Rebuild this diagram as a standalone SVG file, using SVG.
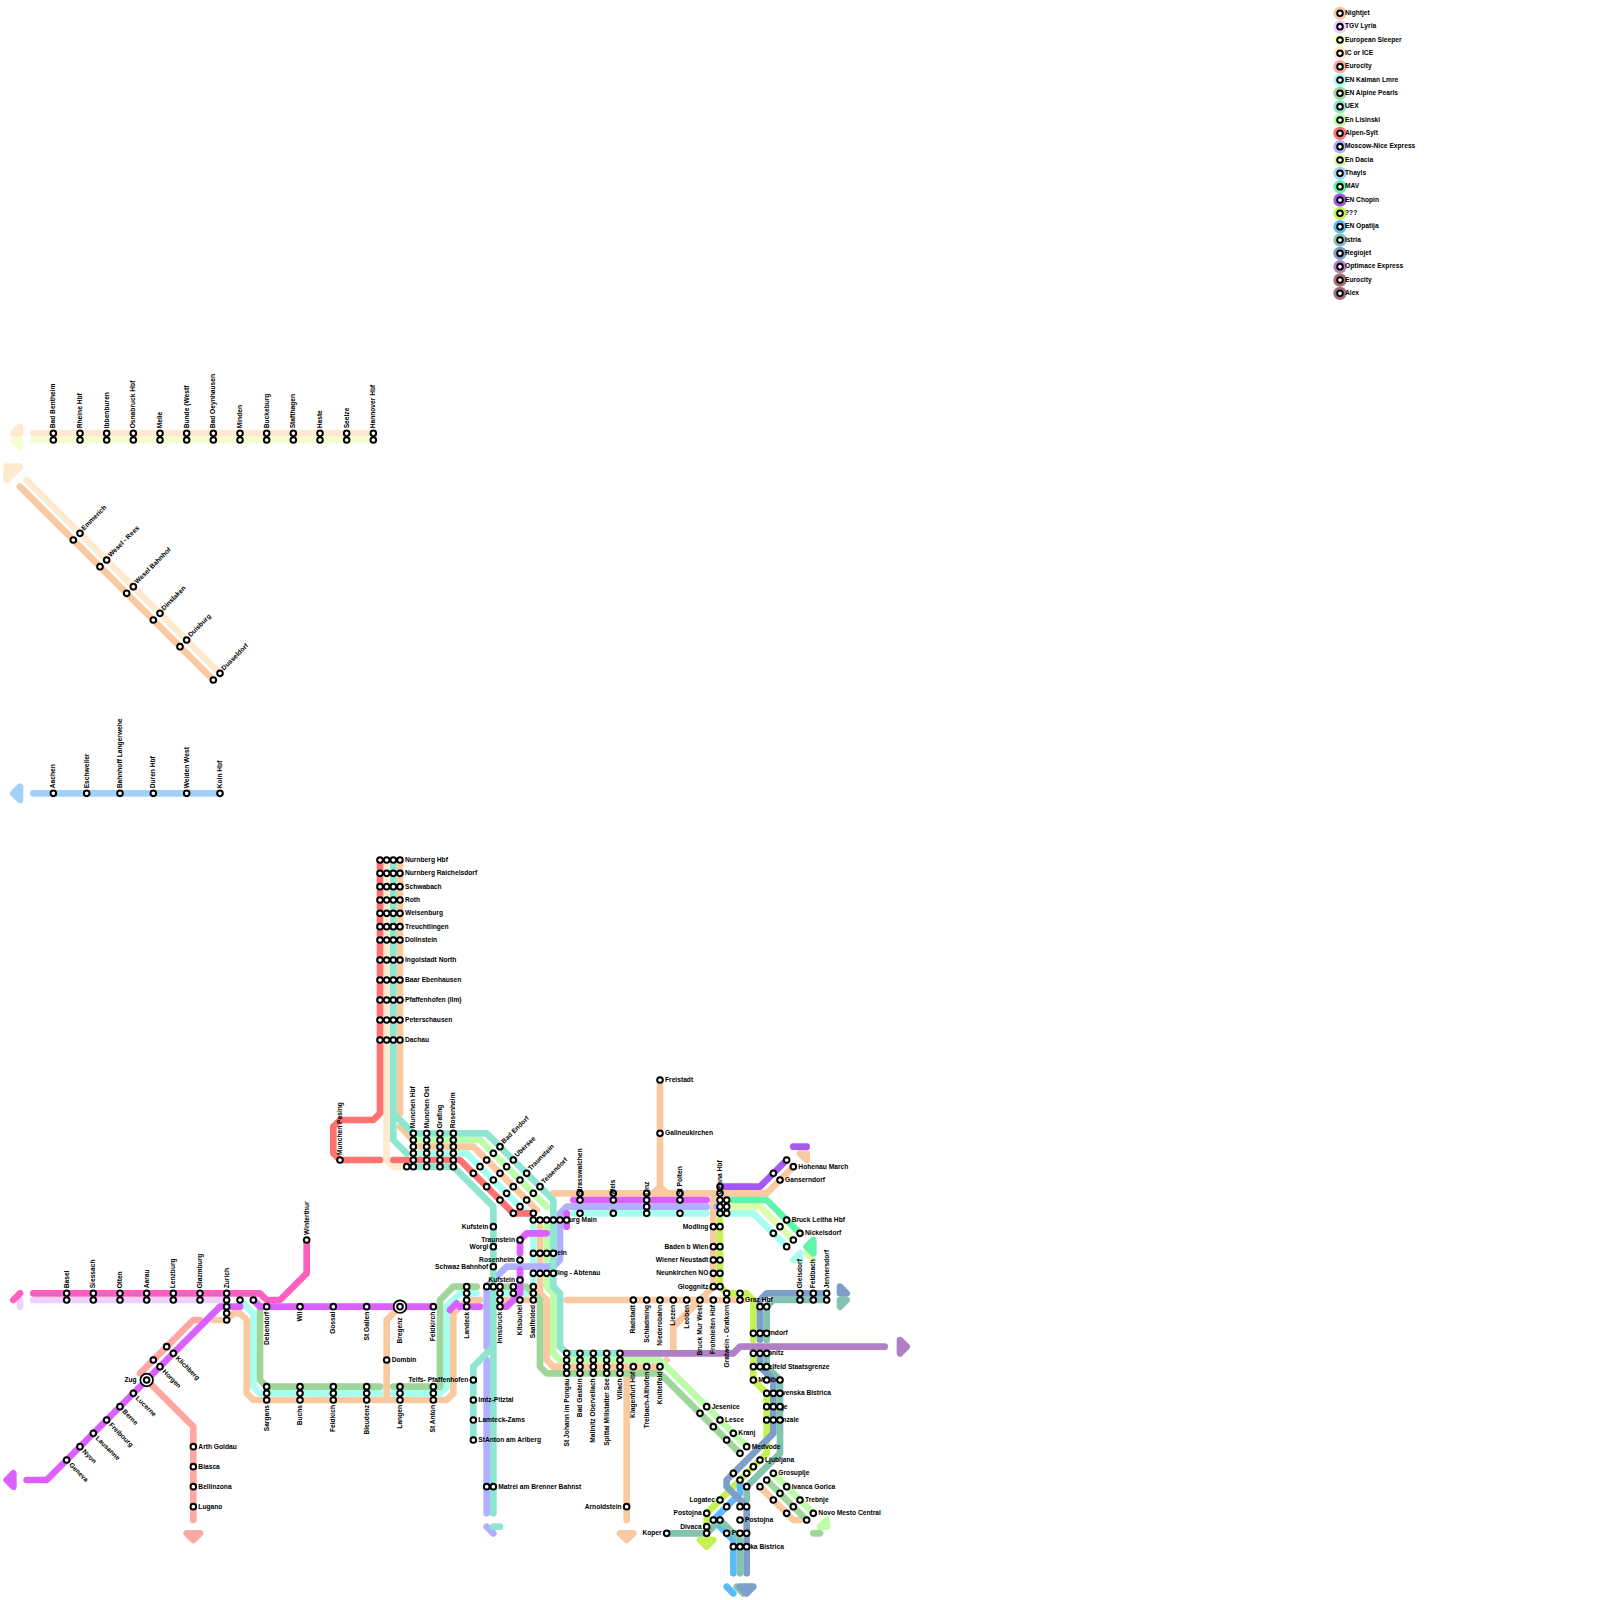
<svg xmlns="http://www.w3.org/2000/svg" xmlns:xlink="http://www.w3.org/1999/xlink" width="1600" height="1600" viewBox="0 0 1600 1600">
<style>
text{font:bold 1px "Liberation Sans",Arial,sans-serif;fill:#000}
.e{text-anchor:end}
.nj{stroke:#f9c9a0;fill:#f9c9a0}.tg{stroke:#eed0fd;fill:#eed0fd}.es{stroke:#f4ffcf;fill:#f4ffcf}.ic{stroke:#fdeacf;fill:#fdeacf}.ec{stroke:#ffa8a3;fill:#ffa8a3}.ka{stroke:#a8fff0;fill:#a8fff0}.al{stroke:#9fd69a;fill:#9fd69a}.ue{stroke:#8ee5d0;fill:#8ee5d0}.li{stroke:#bcffa8;fill:#bcffa8}.as{stroke:#ff7272;fill:#ff7272}.mo{stroke:#b0b0ff;fill:#b0b0ff}.da{stroke:#ddfcae;fill:#ddfcae}.th{stroke:#a2d2fa;fill:#a2d2fa}.ma{stroke:#5ff5a8;fill:#5ff5a8}.ch{stroke:#a45af0;fill:#a45af0}.qq{stroke:#c4f254;fill:#c4f254}.op{stroke:#5cbaf8;fill:#5cbaf8}.is{stroke:#82c4b0;fill:#82c4b0}.re{stroke:#7d9fc9;fill:#7d9fc9}.om{stroke:#b07fc6;fill:#b07fc6}.e2{stroke:#a87070;fill:#a87070}.ax{stroke:#a56e80;fill:#a56e80}.pk{stroke:#ff60c0;fill:#ff60c0}.pu{stroke:#dc5fff;fill:#dc5fff}
.l{fill:none;stroke-width:1;stroke-linecap:round;stroke-linejoin:round}
.h{stroke-width:1;stroke-linejoin:round}
.k{stroke:none}
</style>
<defs><circle id="s" r=".42" fill="#fff" stroke="#000" stroke-width=".3"/><circle id="b" r=".95" fill="#fff" stroke="#000" stroke-width=".26"/></defs>
<g transform="scale(6.66667)">
<g id="connectors">
<path class="l ic" d="M5,65H56M4,72L33,101M58,129V174L59,175H61"/>
<path class="l es" d="M5,66H56"/>
<path class="l nj" d="M3,73L32,102"/>
<path class="l th" d="M5,119H33"/>
<path class="l tg" d="M5,195H34M3,195V196"/>
<path class="l pk" d="M5,194H39L40,195H42L46,191V186M2,195L3,194"/>
<path class="l ec" d="M21,206L29,198H30M22,207L29,214V228"/>
<path class="l nj" d="M32,198H34L35,197H36L37,198V209L38,210H67L68,209V197L70,195H72M60,196L58,198V210M75,195H81M60,129V167M60,169L63,172H71L80.5,181.5M81,184V194L82,195V204L83,205H99L100,204M85,195H111.5M83,179H115L119,175M99,162V178L100,179M99,178L98,179M107,179V193L101,199V202.3M94,206.5V228M114,223L119,228H120"/>
<path class="l ka" d="M36,195L38,197V208L39,209H57M59,209H66L67,208V196L69,194H71.5M75,194H79L80,193V184M62,173H70L79.5,182.5M86,182H106M108,182H113L118,187"/>
<path class="l al" d="M38,195L39,196V207L40,208H57M59,208H66V195L68,193H71.5M75,193H79L81,195V205L82,206H99L111,218M115,222L121,228"/>
<path class="l li" d="M62,171H72L82,181M82,184V193L83,194V203L84,204H99L112,217M116,221L122,227"/>
<path class="l as" d="M57,129V167L56,168H51L50,169V173L51,174H57M59,174H69L77,182H80"/>
<path class="l mo" d="M73,202V193L76,190H83L84,189V182L85,181H106M107.5,181H108M73,204V227"/>
<path class="l ue" d="M59,129V167L62,170H73L83,180V193L84,194V202L85,203H93M59,167V171L61,173M62,175H68L74,181V227M74,202L71,205V216"/>
<path class="l pu" d="M4,222H7L33,196H36M38,195L39,196H65M67.5,196.5L68.5,195.5M69,196H72M75,196H76L78,194V190.5M78,188V186L79,185H82M86,180H106M85,182V184"/>
<path class="l da" d="M109,181H114L119,186"/>
<path class="l ma" d="M109,180H115L120,185"/>
<path class="l ch" d="M108.5,178H114L118,174M119,172H121"/>
<path class="l qq" d="M108,183V193L109,194H112L113,195V201M113,203V207L115,209V218L106,227V231"/>
<path class="l om" d="M93,203H110L111,202H132.7"/>
<path class="l op" d="M111,222V224L107,228L110,231V236"/>
<path class="l is" d="M124,195H116L115,196V201M115,203V205L117,207V218L112,223V225M100,230H106L108,228L111,231V236"/>
<path class="l re" d="M124,194H115L114,195V201M114,203V205L116,207V215L110,221L109,222V223L112,226V236"/>
<path class="l op" d="M109,238L110,239"/>
<path class="l is" d="M110.5,238L111.5,239"/>
<path class="l da" d="M121,188L122,189"/>
<path class="l al" d="M122,230H123"/>
<path class="l mo" d="M73,229L74,230"/>
<path class="l ue" d="M74,229H75"/>
<polygon class="h ic" points="2,65 3,64 3,65"/>
<polygon class="h es" points="2,66 3,66 3,67"/>
<polygon class="h ic" points="1,70 3,70 1,72"/>
<polygon class="h th" points="2,119 3,118 3,120"/>
<polygon class="h pu" points="1,222 2,221 2,223"/>
<polygon class="h ec" points="28,230 30,230 29,231"/>
<polygon class="h nj" points="93,230 95,230 94,231"/>
<polygon class="h om" points="135,201 136,202 135,203"/>
<polygon class="h nj" points="120,173 121,173 121,174"/>
<polygon class="h ma" points="121,187 122,186 122,188"/>
<polygon class="h ka" points="119,189 120,188 120,189"/>
<polygon class="h re" points="126,193 127,194 126,194"/>
<polygon class="h is" points="126,195 127,195 126,196"/>
<polygon class="h li" points="123,229 124,228 124,229"/>
<polygon class="h qq" points="105,231 107,231 106,232"/>
<polygon class="h re" points="111,238 113,238 112,239"/>
</g>
<g id="legend" opacity=".995">
<circle class="nj k" cx="201" cy="2" r="1"/><use href="#s" x="201" y="2"/><text x="201.75" y="2.25">Nightjet</text>
<circle class="tg k" cx="201" cy="4" r="1"/><use href="#s" x="201" y="4"/><text x="201.75" y="4.25">TGV Lyria</text>
<circle class="es k" cx="201" cy="6" r="1"/><use href="#s" x="201" y="6"/><text x="201.75" y="6.25">European Sleeper</text>
<circle class="ic k" cx="201" cy="8" r="1"/><use href="#s" x="201" y="8"/><text x="201.75" y="8.25">IC or ICE</text>
<circle class="ec k" cx="201" cy="10" r="1"/><use href="#s" x="201" y="10"/><text x="201.75" y="10.25">Eurocity</text>
<circle class="ka k" cx="201" cy="12" r="1"/><use href="#s" x="201" y="12"/><text x="201.75" y="12.25">EN Kalman Lmre</text>
<circle class="al k" cx="201" cy="14" r="1"/><use href="#s" x="201" y="14"/><text x="201.75" y="14.25">EN Alpine Pearls</text>
<circle class="ue k" cx="201" cy="16" r="1"/><use href="#s" x="201" y="16"/><text x="201.75" y="16.25">UEX</text>
<circle class="li k" cx="201" cy="18" r="1"/><use href="#s" x="201" y="18"/><text x="201.75" y="18.25">En Lisinski</text>
<circle class="as k" cx="201" cy="20" r="1"/><use href="#s" x="201" y="20"/><text x="201.75" y="20.25">Alpen-Sylt</text>
<circle class="mo k" cx="201" cy="22" r="1"/><use href="#s" x="201" y="22"/><text x="201.75" y="22.25">Moscow-Nice Express</text>
<circle class="da k" cx="201" cy="24" r="1"/><use href="#s" x="201" y="24"/><text x="201.75" y="24.25">En Dacia</text>
<circle class="th k" cx="201" cy="26" r="1"/><use href="#s" x="201" y="26"/><text x="201.75" y="26.25">Thayls</text>
<circle class="ma k" cx="201" cy="28" r="1"/><use href="#s" x="201" y="28"/><text x="201.75" y="28.25">MAV</text>
<circle class="ch k" cx="201" cy="30" r="1"/><use href="#s" x="201" y="30"/><text x="201.75" y="30.25">EN Chopin</text>
<circle class="qq k" cx="201" cy="32" r="1"/><use href="#s" x="201" y="32"/><text x="201.75" y="32.25">???</text>
<circle class="op k" cx="201" cy="34" r="1"/><use href="#s" x="201" y="34"/><text x="201.75" y="34.25">EN Opatija</text>
<circle class="is k" cx="201" cy="36" r="1"/><use href="#s" x="201" y="36"/><text x="201.75" y="36.25">Istria</text>
<circle class="re k" cx="201" cy="38" r="1"/><use href="#s" x="201" y="38"/><text x="201.75" y="38.25">Regiojet</text>
<circle class="om k" cx="201" cy="40" r="1"/><use href="#s" x="201" y="40"/><text x="201.75" y="40.25">Optimace Express</text>
<circle class="e2 k" cx="201" cy="42" r="1"/><use href="#s" x="201" y="42"/><text x="201.75" y="42.25">Eurocity</text>
<circle class="ax k" cx="201" cy="44" r="1"/><use href="#s" x="201" y="44"/><text x="201.75" y="44.25">Alex</text>
</g>
<g id="nodes" opacity=".995">
<g id="bad-bentheim"><use href="#s" x="8" y="65"/><use href="#s" x="8" y="66"/><text transform="translate(8.3 64.25)rotate(-90)">Bad Bentheim</text></g>
<g id="rheine"><use href="#s" x="12" y="65"/><use href="#s" x="12" y="66"/><text transform="translate(12.3 64.25)rotate(-90)">Rheine Hbf</text></g>
<g id="ibbenburen"><use href="#s" x="16" y="65"/><use href="#s" x="16" y="66"/><text transform="translate(16.3 64.25)rotate(-90)">Ibbenburen</text></g>
<g id="osnabruck"><use href="#s" x="20" y="65"/><use href="#s" x="20" y="66"/><text transform="translate(20.3 64.25)rotate(-90)">Osnabruck Hbf</text></g>
<g id="melle"><use href="#s" x="24" y="65"/><use href="#s" x="24" y="66"/><text transform="translate(24.3 64.25)rotate(-90)">Melle</text></g>
<g id="bunde"><use href="#s" x="28" y="65"/><use href="#s" x="28" y="66"/><text transform="translate(28.3 64.25)rotate(-90)">Bunde (Westf</text></g>
<g id="oeynhausen"><use href="#s" x="32" y="65"/><use href="#s" x="32" y="66"/><text transform="translate(32.3 64.25)rotate(-90)">Bad Oeynhausen</text></g>
<g id="minden"><use href="#s" x="36" y="65"/><use href="#s" x="36" y="66"/><text transform="translate(36.3 64.25)rotate(-90)">Minden</text></g>
<g id="buckeburg"><use href="#s" x="40" y="65"/><use href="#s" x="40" y="66"/><text transform="translate(40.3 64.25)rotate(-90)">Buckeburg</text></g>
<g id="stafthagen"><use href="#s" x="44" y="65"/><use href="#s" x="44" y="66"/><text transform="translate(44.3 64.25)rotate(-90)">Stafthagen</text></g>
<g id="haste"><use href="#s" x="48" y="65"/><use href="#s" x="48" y="66"/><text transform="translate(48.3 64.25)rotate(-90)">Haste</text></g>
<g id="seelze"><use href="#s" x="52" y="65"/><use href="#s" x="52" y="66"/><text transform="translate(52.3 64.25)rotate(-90)">Seelze</text></g>
<g id="hannover"><use href="#s" x="56" y="65"/><use href="#s" x="56" y="66"/><text transform="translate(56.3 64.25)rotate(-90)">Hannover Hbf</text></g>
<g id="emmerich"><use href="#s" x="12" y="80"/><use href="#s" x="11" y="81"/><text transform="translate(12.6 79.6)rotate(-45)">Emmerich</text></g>
<g id="wesel-rees"><use href="#s" x="16" y="84"/><use href="#s" x="15" y="85"/><text transform="translate(16.6 83.6)rotate(-45)">Wesel - Rees</text></g>
<g id="wesel-bf"><use href="#s" x="20" y="88"/><use href="#s" x="19" y="89"/><text transform="translate(20.6 87.6)rotate(-45)">Wesel Bahnhof</text></g>
<g id="dinslaken"><use href="#s" x="24" y="92"/><use href="#s" x="23" y="93"/><text transform="translate(24.6 91.6)rotate(-45)">Dinslaken</text></g>
<g id="duisburg"><use href="#s" x="28" y="96"/><use href="#s" x="27" y="97"/><text transform="translate(28.6 95.6)rotate(-45)">Duisburg</text></g>
<g id="dusseldorf"><use href="#s" x="33" y="101"/><use href="#s" x="32" y="102"/><text transform="translate(33.6 100.6)rotate(-45)">Dusseldorf</text></g>
<g id="aachen"><use href="#s" x="8" y="119"/><text transform="translate(8.3 118.25)rotate(-90)">Aachen</text></g>
<g id="eschweiler"><use href="#s" x="13" y="119"/><text transform="translate(13.3 118.25)rotate(-90)">Eschweiler</text></g>
<g id="langerwehe"><use href="#s" x="18" y="119"/><text transform="translate(18.3 118.25)rotate(-90)">Bahnhoff Langerwehe</text></g>
<g id="duren"><use href="#s" x="23" y="119"/><text transform="translate(23.3 118.25)rotate(-90)">Duren Hbf</text></g>
<g id="weiden"><use href="#s" x="28" y="119"/><text transform="translate(28.3 118.25)rotate(-90)">Weiden West</text></g>
<g id="koln"><use href="#s" x="33" y="119"/><text transform="translate(33.3 118.25)rotate(-90)">Koln Hbf</text></g>
<g id="basel"><use href="#s" x="10" y="194"/><use href="#s" x="10" y="195"/><text transform="translate(10.3 193.25)rotate(-90)">Basel</text></g>
<g id="siessach"><use href="#s" x="14" y="194"/><use href="#s" x="14" y="195"/><text transform="translate(14.3 193.25)rotate(-90)">Siessach</text></g>
<g id="olten"><use href="#s" x="18" y="194"/><use href="#s" x="18" y="195"/><text transform="translate(18.3 193.25)rotate(-90)">Olten</text></g>
<g id="aarau"><use href="#s" x="22" y="194"/><use href="#s" x="22" y="195"/><text transform="translate(22.3 193.25)rotate(-90)">Aarau</text></g>
<g id="lenzburg"><use href="#s" x="26" y="194"/><use href="#s" x="26" y="195"/><text transform="translate(26.3 193.25)rotate(-90)">Lenzburg</text></g>
<g id="glazmburg"><use href="#s" x="30" y="194"/><use href="#s" x="30" y="195"/><text transform="translate(30.3 193.25)rotate(-90)">Glazmburg</text></g>
<g id="zurich"><use href="#s" x="34" y="194"/><use href="#s" x="34" y="195"/><use href="#s" x="34" y="196"/><use href="#s" x="34" y="197"/><use href="#s" x="34" y="198"/><text transform="translate(34.3 193.25)rotate(-90)">Zurich</text></g>
<g id="winterthur"><use href="#s" x="46" y="186"/><text transform="translate(46.3 185.25)rotate(-90)">Winterthur</text></g>
<g id="z1"><use href="#s" x="36" y="195"/></g>
<g id="z2"><use href="#s" x="38" y="195"/></g>
<g id="klichberg"><use href="#s" x="25" y="202"/><use href="#s" x="26" y="203"/><text transform="translate(26.3 203.8)rotate(45)">Klichberg</text></g>
<g id="horgen"><use href="#s" x="23" y="204"/><use href="#s" x="24" y="205"/><text transform="translate(24.3 205.8)rotate(45)">Horgen</text></g>
<g id="zug"><use href="#b" x="22" y="207"/><use href="#s" x="22" y="207"/><text class="e" x="20.5" y="207.3">Zug</text></g>
<g id="lucerne"><use href="#s" x="20" y="209"/><text transform="translate(20.3 209.8)rotate(45)">Lucerne</text></g>
<g id="berne"><use href="#s" x="18" y="211"/><text transform="translate(18.3 211.8)rotate(45)">Berne</text></g>
<g id="freibourg"><use href="#s" x="16" y="213"/><text transform="translate(16.3 213.8)rotate(45)">Freibourg</text></g>
<g id="lausanne"><use href="#s" x="14" y="215"/><text transform="translate(14.3 215.8)rotate(45)">Lausanne</text></g>
<g id="nyon"><use href="#s" x="12" y="217"/><text transform="translate(12.3 217.8)rotate(45)">Nyon</text></g>
<g id="geneva"><use href="#s" x="10" y="219"/><text transform="translate(10.3 219.8)rotate(45)">Geneva</text></g>
<g id="arth"><use href="#s" x="29" y="217"/><text x="29.75" y="217.3">Arth Goldau</text></g>
<g id="biasca"><use href="#s" x="29" y="220"/><text x="29.75" y="220.3">Biasca</text></g>
<g id="bellinzona"><use href="#s" x="29" y="223"/><text x="29.75" y="223.3">Bellinzona</text></g>
<g id="lugano"><use href="#s" x="29" y="226"/><text x="29.75" y="226.3">Lugano</text></g>
<g id="debendorf"><use href="#s" x="40" y="196"/><text class="e" transform="translate(40.3 196.75)rotate(-90)">Debendorf</text></g>
<g id="wil"><use href="#s" x="45" y="196"/><text class="e" transform="translate(45.3 196.75)rotate(-90)">Wil</text></g>
<g id="gossal"><use href="#s" x="50" y="196"/><text class="e" transform="translate(50.3 196.75)rotate(-90)">Gossal</text></g>
<g id="stgallen"><use href="#s" x="55" y="196"/><text class="e" transform="translate(55.3 196.75)rotate(-90)">St Gallen</text></g>
<g id="bregenz"><use href="#b" x="60" y="196"/><use href="#s" x="60" y="196"/><text class="e" transform="translate(60.3 197.6)rotate(-90)">Bregenz</text></g>
<g id="feldkirch"><use href="#s" x="65" y="196"/><text class="e" transform="translate(65.3 196.75)rotate(-90)">Feldkirch</text></g>
<g id="dombin"><use href="#s" x="58" y="204"/><text x="58.75" y="204.3">Dombin</text></g>
<g id="sargans"><use href="#s" x="40" y="208"/><use href="#s" x="40" y="209"/><use href="#s" x="40" y="210"/><text class="e" transform="translate(40.3 210.75)rotate(-90)">Sargans</text></g>
<g id="buchs"><use href="#s" x="45" y="208"/><use href="#s" x="45" y="209"/><use href="#s" x="45" y="210"/><text class="e" transform="translate(45.3 210.75)rotate(-90)">Buchs</text></g>
<g id="feldkich"><use href="#s" x="50" y="208"/><use href="#s" x="50" y="209"/><use href="#s" x="50" y="210"/><text class="e" transform="translate(50.3 210.75)rotate(-90)">Feldkich</text></g>
<g id="bleudenz"><use href="#s" x="55" y="208"/><use href="#s" x="55" y="209"/><use href="#s" x="55" y="210"/><text class="e" transform="translate(55.3 210.75)rotate(-90)">Bleudenz</text></g>
<g id="langen"><use href="#s" x="60" y="208"/><use href="#s" x="60" y="209"/><use href="#s" x="60" y="210"/><text class="e" transform="translate(60.3 210.75)rotate(-90)">Langen</text></g>
<g id="stanton"><use href="#s" x="65" y="208"/><use href="#s" x="65" y="209"/><use href="#s" x="65" y="210"/><text class="e" transform="translate(65.3 210.75)rotate(-90)">St Anton</text></g>
<g id="nurnberg"><use href="#s" x="57" y="129"/><use href="#s" x="58" y="129"/><use href="#s" x="59" y="129"/><use href="#s" x="60" y="129"/><text x="60.75" y="129.3">Nurnberg Hbf</text></g>
<g id="raichelsdorf"><use href="#s" x="57" y="131"/><use href="#s" x="58" y="131"/><use href="#s" x="59" y="131"/><use href="#s" x="60" y="131"/><text x="60.75" y="131.3">Nurnberg Raichelsdorf</text></g>
<g id="schwabach"><use href="#s" x="57" y="133"/><use href="#s" x="58" y="133"/><use href="#s" x="59" y="133"/><use href="#s" x="60" y="133"/><text x="60.75" y="133.3">Schwabach</text></g>
<g id="roth"><use href="#s" x="57" y="135"/><use href="#s" x="58" y="135"/><use href="#s" x="59" y="135"/><use href="#s" x="60" y="135"/><text x="60.75" y="135.3">Roth</text></g>
<g id="weisenburg"><use href="#s" x="57" y="137"/><use href="#s" x="58" y="137"/><use href="#s" x="59" y="137"/><use href="#s" x="60" y="137"/><text x="60.75" y="137.3">Weisenburg</text></g>
<g id="treuchtlingen"><use href="#s" x="57" y="139"/><use href="#s" x="58" y="139"/><use href="#s" x="59" y="139"/><use href="#s" x="60" y="139"/><text x="60.75" y="139.3">Treuchtlingen</text></g>
<g id="dollnstein"><use href="#s" x="57" y="141"/><use href="#s" x="58" y="141"/><use href="#s" x="59" y="141"/><use href="#s" x="60" y="141"/><text x="60.75" y="141.3">Dollnstein</text></g>
<g id="ingolstadt"><use href="#s" x="57" y="144"/><use href="#s" x="58" y="144"/><use href="#s" x="59" y="144"/><use href="#s" x="60" y="144"/><text x="60.75" y="144.3">Ingolstadt North</text></g>
<g id="baar"><use href="#s" x="57" y="147"/><use href="#s" x="58" y="147"/><use href="#s" x="59" y="147"/><use href="#s" x="60" y="147"/><text x="60.75" y="147.3">Baar Ebenhausen</text></g>
<g id="pfaffenhofen"><use href="#s" x="57" y="150"/><use href="#s" x="58" y="150"/><use href="#s" x="59" y="150"/><use href="#s" x="60" y="150"/><text x="60.75" y="150.3">Pfaffenhofen (Ilm)</text></g>
<g id="peterschausen"><use href="#s" x="57" y="153"/><use href="#s" x="58" y="153"/><use href="#s" x="59" y="153"/><use href="#s" x="60" y="153"/><text x="60.75" y="153.3">Peterschausen</text></g>
<g id="dachau"><use href="#s" x="57" y="156"/><use href="#s" x="58" y="156"/><use href="#s" x="59" y="156"/><use href="#s" x="60" y="156"/><text x="60.75" y="156.3">Dachau</text></g>
<g id="pasing"><use href="#s" x="51" y="174"/><text transform="translate(51.3 173.25)rotate(-90)">Munchen Pasing</text></g>
<g id="munchen-hbf"><use href="#s" x="62" y="170"/><use href="#s" x="62" y="171"/><use href="#s" x="62" y="172"/><use href="#s" x="62" y="173"/><use href="#s" x="62" y="174"/><use href="#s" x="62" y="175"/><use href="#s" x="61" y="175"/><text transform="translate(62.3 169.25)rotate(-90)">Munchen Hbf</text></g>
<g id="munchen-ost"><use href="#s" x="64" y="170"/><use href="#s" x="64" y="171"/><use href="#s" x="64" y="172"/><use href="#s" x="64" y="173"/><use href="#s" x="64" y="174"/><use href="#s" x="64" y="175"/><text transform="translate(64.3 169.25)rotate(-90)">Munchen Ost</text></g>
<g id="grafing"><use href="#s" x="66" y="170"/><use href="#s" x="66" y="171"/><use href="#s" x="66" y="172"/><use href="#s" x="66" y="173"/><use href="#s" x="66" y="174"/><use href="#s" x="66" y="175"/><text transform="translate(66.3 169.25)rotate(-90)">Grafing</text></g>
<g id="rosenheim"><use href="#s" x="68" y="170"/><use href="#s" x="68" y="171"/><use href="#s" x="68" y="172"/><use href="#s" x="68" y="173"/><use href="#s" x="68" y="174"/><use href="#s" x="68" y="175"/><text transform="translate(68.3 169.25)rotate(-90)">Rosenheim</text></g>
<g id="bad-endorf"><use href="#s" x="75" y="172"/><use href="#s" x="74" y="173"/><use href="#s" x="73" y="174"/><use href="#s" x="72" y="175"/><use href="#s" x="71" y="176"/><text transform="translate(75.6 171.6)rotate(-45)">Bad Endorf</text></g>
<g id="ubersee"><use href="#s" x="77" y="174"/><use href="#s" x="76" y="175"/><use href="#s" x="75" y="176"/><use href="#s" x="74" y="177"/><use href="#s" x="73" y="178"/><text transform="translate(77.6 173.6)rotate(-45)">Ubersee</text></g>
<g id="traunstein-d"><use href="#s" x="79" y="176"/><use href="#s" x="78" y="177"/><use href="#s" x="77" y="178"/><use href="#s" x="76" y="179"/><use href="#s" x="75" y="180"/><text transform="translate(79.6 175.6)rotate(-45)">Traunstein</text></g>
<g id="teisendorf"><use href="#s" x="81" y="178"/><use href="#s" x="80" y="179"/><use href="#s" x="79" y="180"/><use href="#s" x="78" y="181"/><use href="#s" x="77" y="182"/><text transform="translate(81.6 177.6)rotate(-45)">Teisendorf</text></g>
<g id="salzburg"><use href="#s" x="80" y="182"/><use href="#s" x="80" y="183"/><use href="#s" x="81" y="183"/><use href="#s" x="82" y="183"/><text x="82.75" y="183.3">Salzburg Main</text></g>
<g id="s83"><use href="#s" x="83" y="183"/></g>
<g id="s84"><use href="#s" x="84" y="183"/></g>
<g id="s85"><use href="#s" x="85" y="183"/></g>
<g id="hallein"><use href="#s" x="80" y="188"/><use href="#s" x="81" y="188"/><text x="81.75" y="188.3">Hallein</text></g>
<g id="h82"><use href="#s" x="82" y="188"/></g>
<g id="h83"><use href="#s" x="83" y="188"/></g>
<g id="golling"><use href="#s" x="80" y="191"/><use href="#s" x="81" y="191"/><text x="81.75" y="191.3">Golling - Abtenau</text></g>
<g id="g82"><use href="#s" x="82" y="191"/></g>
<g id="g83"><use href="#s" x="83" y="191"/></g>
<g id="kufstein-a"><use href="#s" x="74" y="184"/><text class="e" x="73.25" y="184.3">Kufstein</text></g>
<g id="worgl"><use href="#s" x="74" y="187"/><text class="e" x="73.25" y="187.3">Worgl</text></g>
<g id="schwaz"><use href="#s" x="74" y="190"/><text class="e" x="73.25" y="190.3">Schwaz Bahnhof</text></g>
<g id="traunstein-b"><use href="#s" x="78" y="186"/><text class="e" x="77.25" y="186.3">Traunstein</text></g>
<g id="rosenheim-b"><use href="#s" x="78" y="189"/><text class="e" x="77.25" y="189.3">Rosenheim</text></g>
<g id="kufstein-b"><use href="#s" x="78" y="192"/><text class="e" x="77.25" y="192.3">Kufstein</text></g>
<g id="r193"><use href="#s" x="73" y="193"/></g>
<g id="r193b"><use href="#s" x="74" y="193"/></g>
<g id="landeck"><use href="#s" x="70" y="193"/><use href="#s" x="70" y="194"/><use href="#s" x="70" y="195"/><use href="#s" x="70" y="196"/><text class="e" transform="translate(70.3 196.75)rotate(-90)">Landeck</text></g>
<g id="innsbruck"><use href="#s" x="75" y="193"/><use href="#s" x="75" y="194"/><use href="#s" x="75" y="195"/><use href="#s" x="75" y="196"/><text class="e" transform="translate(75.3 196.75)rotate(-90)">Innsbruck</text></g>
<g id="kitsbuhel"><use href="#s" x="77" y="193"/><use href="#s" x="77" y="194"/><use href="#s" x="78" y="195"/><text class="e" transform="translate(78.3 195.75)rotate(-90)">Kitsbuhel</text></g>
<g id="saalfelded"><use href="#s" x="80" y="193"/><use href="#s" x="80" y="194"/><use href="#s" x="80" y="195"/><text class="e" transform="translate(80.3 195.75)rotate(-90)">Saalfelded</text></g>
<g id="telfs"><use href="#s" x="71" y="207"/><text class="e" x="70.25" y="207.3">Telfs- Pfaffenhofen</text></g>
<g id="imtz"><use href="#s" x="71" y="210"/><text x="71.75" y="210.3">Imtz-Pitztal</text></g>
<g id="lamteck"><use href="#s" x="71" y="213"/><text x="71.75" y="213.3">Lamteck-Zams</text></g>
<g id="stanton-a"><use href="#s" x="71" y="216"/><text x="71.75" y="216.3">StAnton am Arlberg</text></g>
<g id="matrei"><use href="#s" x="73" y="223"/><use href="#s" x="74" y="223"/><text x="74.75" y="223.3">Matrei am Brenner Bahnst</text></g>
<g id="st-johann"><use href="#s" x="85" y="203"/><use href="#s" x="85" y="204"/><use href="#s" x="85" y="205"/><use href="#s" x="85" y="206"/><text class="e" transform="translate(85.3 206.75)rotate(-90)">St Johann im Pongau</text></g>
<g id="gastein"><use href="#s" x="87" y="203"/><use href="#s" x="87" y="204"/><use href="#s" x="87" y="205"/><use href="#s" x="87" y="206"/><text class="e" transform="translate(87.3 206.75)rotate(-90)">Bad Gastein</text></g>
<g id="mallnitz"><use href="#s" x="89" y="203"/><use href="#s" x="89" y="204"/><use href="#s" x="89" y="205"/><use href="#s" x="89" y="206"/><text class="e" transform="translate(89.3 206.75)rotate(-90)">Mallnitz Obervellach</text></g>
<g id="spittal"><use href="#s" x="91" y="203"/><use href="#s" x="91" y="204"/><use href="#s" x="91" y="205"/><use href="#s" x="91" y="206"/><text class="e" transform="translate(91.3 206.75)rotate(-90)">Spittal Millstatter See</text></g>
<g id="villach"><use href="#s" x="93" y="203"/><use href="#s" x="93" y="204"/><use href="#s" x="93" y="205"/><use href="#s" x="93" y="206"/><text class="e" transform="translate(93.3 206.75)rotate(-90)">Villach</text></g>
<g id="klagenfurt"><use href="#s" x="95" y="205"/><text class="e" transform="translate(95.3 205.75)rotate(-90)">Klagenfurt Hbf</text></g>
<g id="treibach"><use href="#s" x="97" y="205"/><text class="e" transform="translate(97.3 205.75)rotate(-90)">Treibach-Althofen</text></g>
<g id="knittelfeld"><use href="#s" x="99" y="205"/><text class="e" transform="translate(99.3 205.75)rotate(-90)">Knittelfeld</text></g>
<g id="arnoldstein"><use href="#s" x="94" y="226"/><text class="e" x="93.25" y="226.3">Arnoldstein</text></g>
<g id="radstadt"><use href="#s" x="95" y="195"/><text class="e" transform="translate(95.3 195.75)rotate(-90)">Radstadt</text></g>
<g id="schladming"><use href="#s" x="97" y="195"/><text class="e" transform="translate(97.3 195.75)rotate(-90)">Schladming</text></g>
<g id="niederobahn"><use href="#s" x="99" y="195"/><text class="e" transform="translate(99.3 195.75)rotate(-90)">Niederobahn</text></g>
<g id="liezen"><use href="#s" x="101" y="195"/><text class="e" transform="translate(101.3 195.75)rotate(-90)">Liezen</text></g>
<g id="leoben"><use href="#s" x="103" y="195"/><text class="e" transform="translate(103.3 195.75)rotate(-90)">Leoben</text></g>
<g id="bruck-mur"><use href="#s" x="105" y="195"/><text class="e" transform="translate(105.3 195.75)rotate(-90)">Bruck Mur West</text></g>
<g id="frohnleiten"><use href="#s" x="107" y="195"/><text class="e" transform="translate(107.3 195.75)rotate(-90)">Frohnleiten Hbf</text></g>
<g id="gratwein"><use href="#s" x="109" y="194"/><use href="#s" x="109" y="195"/><text class="e" transform="translate(109.3 195.75)rotate(-90)">Gratwein - Gratkorn</text></g>
<g id="graz"><use href="#s" x="111" y="194"/><use href="#s" x="111" y="195"/><text x="111.75" y="195.3">Graz Hbf</text></g>
<g id="freistadt"><use href="#s" x="99" y="162"/><text x="99.75" y="162.3">Freistadt</text></g>
<g id="gallneukirchen"><use href="#s" x="99" y="170"/><text x="99.75" y="170.3">Gallneukirchen</text></g>
<g id="strasswalchen"><use href="#s" x="87" y="179"/><use href="#s" x="87" y="180"/><use href="#s" x="87" y="182"/><text transform="translate(87.3 179.25)rotate(-90)">Strasswalchen</text></g>
<g id="wels"><use href="#s" x="92" y="179"/><use href="#s" x="92" y="180"/><use href="#s" x="92" y="182"/><text transform="translate(92.3 179.25)rotate(-90)">Wels</text></g>
<g id="linz"><use href="#s" x="97" y="179"/><use href="#s" x="97" y="180"/><use href="#s" x="97" y="181"/><use href="#s" x="97" y="182"/><text transform="translate(97.3 179.25)rotate(-90)">Linz</text></g>
<g id="polten"><use href="#s" x="102" y="179"/><use href="#s" x="102" y="180"/><use href="#s" x="102" y="182"/><text transform="translate(102.3 179.25)rotate(-90)">St Polten</text></g>
<g id="vienna"><use href="#s" x="108" y="178"/><use href="#s" x="108" y="179"/><use href="#s" x="108" y="180"/><use href="#s" x="108" y="181"/><use href="#s" x="108" y="182"/><use href="#s" x="109" y="180"/><use href="#s" x="109" y="181"/><use href="#s" x="109" y="182"/><text transform="translate(108.3 179.25)rotate(-90)">Vienna Hbf</text></g>
<g id="modling"><use href="#s" x="107" y="184"/><use href="#s" x="108" y="184"/><text class="e" x="106.25" y="184.3">Modling</text></g>
<g id="baden"><use href="#s" x="107" y="187"/><use href="#s" x="108" y="187"/><text class="e" x="106.25" y="187.3">Baden b Wien</text></g>
<g id="neustadt"><use href="#s" x="107" y="189"/><use href="#s" x="108" y="189"/><text class="e" x="106.25" y="189.3">Wiener Neustadt</text></g>
<g id="neunkirchen"><use href="#s" x="107" y="191"/><use href="#s" x="108" y="191"/><text class="e" x="106.25" y="191.3">Neunkirchen NO</text></g>
<g id="gloggnitz"><use href="#s" x="107" y="193"/><use href="#s" x="108" y="193"/><text class="e" x="106.25" y="193.3">Gloggnitz</text></g>
<g id="hohenau"><use href="#s" x="118" y="174"/><use href="#s" x="119" y="175"/><text x="119.75" y="175.3">Hohenau March</text></g>
<g id="ganserndorf"><use href="#s" x="116" y="176"/><use href="#s" x="117" y="177"/><text x="117.75" y="177.3">Ganserndorf</text></g>
<g id="bruck-leitha"><use href="#s" x="116" y="185"/><use href="#s" x="117" y="184"/><use href="#s" x="118" y="183"/><text x="118.75" y="183.3">Bruck Leitha Hbf</text></g>
<g id="nickelsdorf"><use href="#s" x="118" y="187"/><use href="#s" x="119" y="186"/><use href="#s" x="120" y="185"/><text x="120.75" y="185.3">Nickelsdorf</text></g>
<g id="gleisdorf"><use href="#s" x="120" y="194"/><use href="#s" x="120" y="195"/><text transform="translate(120.3 193.25)rotate(-90)">Gleisdorf</text></g>
<g id="feldbach"><use href="#s" x="122" y="194"/><use href="#s" x="122" y="195"/><text transform="translate(122.3 193.25)rotate(-90)">Feldbach</text></g>
<g id="jennersdorf"><use href="#s" x="124" y="194"/><use href="#s" x="124" y="195"/><text transform="translate(124.3 193.25)rotate(-90)">Jennersdorf</text></g>
<g id="g196"><use href="#s" x="114" y="196"/><use href="#s" x="115" y="196"/></g>
<g id="werndorf"><use href="#s" x="113" y="200"/><text x="113.75" y="200.3">Werndorf</text></g>
<g id="w2"><use href="#s" x="114" y="200"/></g><g id="w3"><use href="#s" x="115" y="200"/></g>
<g id="leibnitz"><use href="#s" x="113" y="203"/><text x="113.75" y="203.3">Leibnitz</text></g>
<g id="l2"><use href="#s" x="114" y="203"/></g><g id="l3"><use href="#s" x="115" y="203"/></g>
<g id="spielfeld"><use href="#s" x="113" y="205"/><text x="113.75" y="205.3">Spielfeld Staatsgrenze</text></g>
<g id="p2"><use href="#s" x="114" y="205"/></g><g id="p3"><use href="#s" x="115" y="205"/></g>
<g id="maribor"><use href="#s" x="113" y="207"/><text x="113.75" y="207.3">Maribor</text></g>
<g id="m2"><use href="#s" x="115" y="207"/></g><g id="m3"><use href="#s" x="117" y="207"/></g>
<g id="slovenska"><use href="#s" x="115" y="209"/><text x="115.75" y="209.3">Slovenska Bistrica</text></g>
<g id="v2"><use href="#s" x="116" y="209"/></g><g id="v3"><use href="#s" x="117" y="209"/></g>
<g id="celje"><use href="#s" x="115" y="211"/><text x="115.75" y="211.3">Celje</text></g>
<g id="c2"><use href="#s" x="116" y="211"/></g><g id="c3"><use href="#s" x="117" y="211"/></g>
<g id="domzale"><use href="#s" x="115" y="213"/><text x="115.75" y="213.3">Domzale</text></g>
<g id="d2"><use href="#s" x="116" y="213"/></g><g id="d3"><use href="#s" x="117" y="213"/></g>
<g id="jesenice"><use href="#s" x="106" y="211"/><use href="#s" x="105" y="212"/><text x="106.75" y="211.3">Jesenice</text></g>
<g id="lesce"><use href="#s" x="108" y="213"/><use href="#s" x="107" y="214"/><text x="108.75" y="213.3">Lesce</text></g>
<g id="kranj"><use href="#s" x="110" y="215"/><use href="#s" x="109" y="216"/><text x="110.75" y="215.3">Kranj</text></g>
<g id="medvode"><use href="#s" x="112" y="217"/><use href="#s" x="111" y="218"/><text x="112.75" y="217.3">Medvode</text></g>
<g id="ljubljana"><use href="#s" x="114" y="219"/><use href="#s" x="113" y="220"/><use href="#s" x="112" y="221"/><use href="#s" x="111" y="222"/><use href="#s" x="110" y="221"/><text x="114.75" y="219.3">Ljubljana</text></g>
<g id="grosuplje"><use href="#s" x="116" y="221"/><use href="#s" x="115" y="222"/><use href="#s" x="114" y="223"/><use href="#s" x="112" y="223"/><text x="116.75" y="221.3">Grosuplje</text></g>
<g id="ivanca"><use href="#s" x="118" y="223"/><use href="#s" x="117" y="224"/><use href="#s" x="116" y="225"/><text x="118.75" y="223.3">Ivanca Gorica</text></g>
<g id="trebnje"><use href="#s" x="120" y="225"/><use href="#s" x="119" y="226"/><use href="#s" x="118" y="227"/><text x="120.75" y="225.3">Trebnje</text></g>
<g id="novo-mesto"><use href="#s" x="122" y="227"/><use href="#s" x="121" y="228"/><text x="122.75" y="227.3">Novo Mesto Central</text></g>
<g id="logatec"><use href="#s" x="108" y="225"/><text class="e" x="107.25" y="225.3">Logatec</text></g>
<g id="postojna-a"><use href="#s" x="106" y="227"/><text class="e" x="105.25" y="227.3">Postojna</text></g>
<g id="divaca"><use href="#s" x="106" y="229"/><use href="#s" x="106" y="230"/><text class="e" x="105.25" y="229.3">Divaca</text></g>
<g id="koper"><use href="#s" x="100" y="230"/><text class="e" x="99.25" y="230.3">Koper</text></g>
<g id="j1"><use href="#s" x="109" y="226"/><use href="#s" x="107" y="228"/><use href="#s" x="108" y="228"/><use href="#s" x="111" y="226"/><use href="#s" x="112" y="226"/></g>
<g id="postojna-b"><use href="#s" x="111" y="228"/><text x="111.75" y="228.3">Postojna</text></g>
<g id="pivka"><use href="#s" x="109" y="230"/><text x="109.75" y="230.3">Pivka</text></g>
<g id="pv2"><use href="#s" x="111" y="230"/></g><g id="pv3"><use href="#s" x="112" y="230"/></g>
<g id="ilirska"><use href="#s" x="110" y="232"/><text x="110.75" y="232.3">Ilirska Bistrica</text></g>
<g id="il2"><use href="#s" x="111" y="232"/></g><g id="il3"><use href="#s" x="112" y="232"/></g>
</g>
</g>
</svg>
